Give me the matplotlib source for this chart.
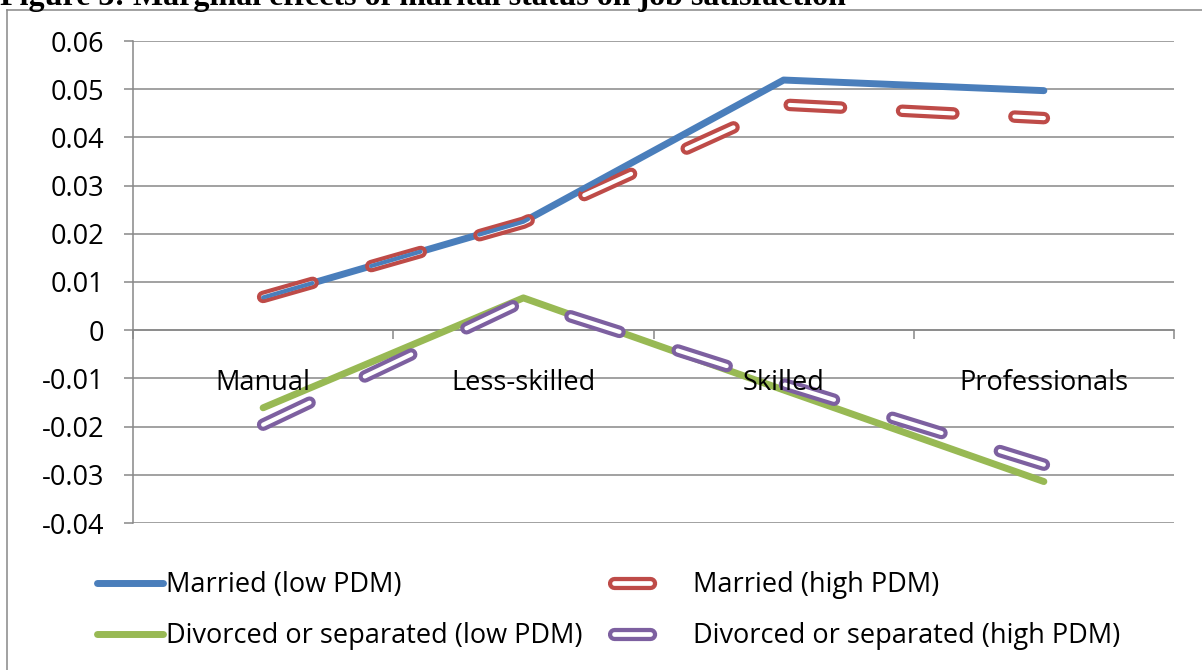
import matplotlib
matplotlib.use("Agg")
import matplotlib.pyplot as plt
from matplotlib.lines import Line2D

plt.rcParams['font.family'] = ['Open Sans', 'DejaVu Sans']
plt.rcParams['lines.scale_dashes'] = False

categories = ['Manual', 'Less-skilled', 'Skilled', 'Professionals']
married_low = [0.0068, 0.0225, 0.0519, 0.0497]
married_high = [0.0069, 0.0223, 0.0468, 0.0440]
divorced_low = [-0.0161, 0.0067, -0.0124, -0.0314]
divorced_high = [-0.0196, 0.0060, -0.0112, -0.0279]
yticks = [-0.04, -0.03, -0.02, -0.01, 0, 0.01, 0.02, 0.03, 0.04, 0.05, 0.06]
ytick_labels = ['-0.04', '-0.03', '-0.02', '-0.01', '0', '0.01', '0.02', '0.03',
                '0.04', '0.05', '0.06']

BLUE = '#4a7ebb'
RED = '#be4b48'
GREEN = '#98b954'
PURPLE = '#7d60a0'
GRID = '#888888'
FS = 19.5

fig = plt.figure(figsize=(12.02, 6.70), dpi=100)
ax = fig.add_axes([133 / 1202, 1 - 523 / 670, (1174 - 133) / 1202, (523 - 41) / 670])

x = [i + 0.5 for i in range(len(categories))]

# gridlines under the series
for yv in yticks:
    ax.axhline(yv, color=GRID, lw=1.1, zorder=0.5)

solid = dict(lw=5.0, solid_capstyle='round', solid_joinstyle='round', zorder=1.0)
ax.plot(x, married_low, color=BLUE, **solid)
ax.plot(x, divorced_low, color=GREEN, **solid)

# double (outlined) dashed lines for the high-PDM series
dash = (0, (37, 44))
outer = dict(lw=9.0, dash_capstyle='round', dash_joinstyle='round', linestyle=dash)
inner = dict(lw=3.0, dash_capstyle='round', dash_joinstyle='round', linestyle=dash)
ax.plot(x, married_high, color=RED, zorder=1.1, **outer)
ax.plot(x, married_high, color='white', zorder=1.2, **inner)
# blue shows through the hollow dashes where the two married lines overlap
ax.plot(x, married_low, color=BLUE, zorder=1.25, **inner)
ax.plot(x, divorced_high, color=PURPLE, zorder=1.1, **outer)
ax.plot(x, divorced_high, color='white', zorder=1.2, **inner)

ax.set_xlim(0, len(categories))
ax.set_ylim(-0.04, 0.06)

for side in ['top', 'right']:
    ax.spines[side].set_visible(False)
ax.spines['bottom'].set_position(('data', 0))
for side in ['left', 'bottom']:
    ax.spines[side].set_color(GRID)
    ax.spines[side].set_linewidth(1.1)
    ax.spines[side].set_zorder(0.6)

ax.set_yticks(yticks)
ax.set_yticklabels(ytick_labels)
ax.tick_params(axis='y', direction='out', length=6.5, width=1.1, color=GRID,
               labelsize=FS, pad=14)

ax.set_xticks(range(len(categories) + 1))
ax.set_xticklabels([])
ax.set_xticks(x, minor=True)
ax.set_xticklabels(categories, minor=True)
ax.tick_params(axis='x', which='major', direction='out', length=6.5, width=1.1, color=GRID)
ax.tick_params(axis='x', which='minor', length=0, labelsize=FS, pad=28)

# legend handles
h_ml = Line2D([], [], color=BLUE, lw=5.0, solid_capstyle='round')
h_dl = Line2D([], [], color=GREEN, lw=5.0, solid_capstyle='round')
leg_dash = (0, (26, 60))
h_mh = (Line2D([], [], color=RED, lw=9.5, dash_capstyle='round', linestyle=leg_dash),
        Line2D([], [], color='white', lw=3.4, dash_capstyle='round', linestyle=leg_dash))
h_dh = (Line2D([], [], color=PURPLE, lw=9.5, dash_capstyle='round', linestyle=leg_dash),
        Line2D([], [], color='white', lw=3.4, dash_capstyle='round', linestyle=leg_dash))

leg_kw = dict(loc='upper left', frameon=False, fontsize=FS, borderpad=0,
              borderaxespad=0, labelspacing=0.86)
leg1 = fig.legend([h_ml, h_dl],
                  ['Married (low PDM)', 'Divorced or separated (low PDM)'],
                  bbox_to_anchor=(97 / 1202, 1 - 571 / 670), handlelength=2.45,
                  handletextpad=0.1, **leg_kw)
leg2 = fig.legend([h_mh, h_dh],
                  ['Married (high PDM)', 'Divorced or separated (high PDM)'],
                  bbox_to_anchor=(614 / 1202, 1 - 571 / 670), handlelength=2.6,
                  handletextpad=0.3, **leg_kw)

# chart frame and the caption running off the top edge
fig.add_artist(Line2D([7 / 1202, 7 / 1202], [-0.1, 1 - 10 / 670], color=GRID, lw=1.1))
fig.add_artist(Line2D([7 / 1202, 1.1], [1 - 10 / 670, 1 - 10 / 670], color=GRID, lw=1.1))
fig.text(0.0, 1 - 5 / 670, 'Figure 3: Marginal effects of marital status on job satisfaction',
         fontsize=23, fontweight='bold', family='Liberation Serif', va='baseline', ha='left')

fig.savefig('out.png', dpi=100)
